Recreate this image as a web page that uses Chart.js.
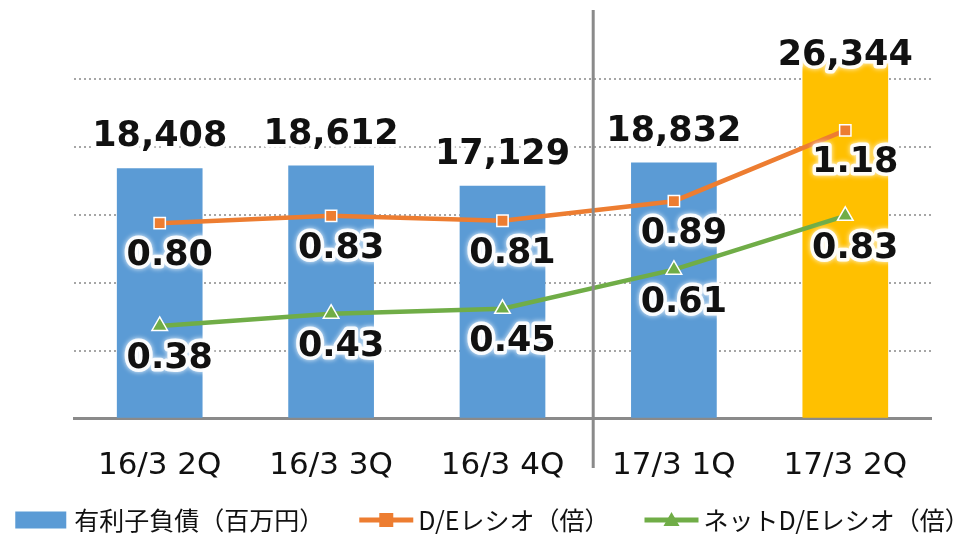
<!DOCTYPE html>
<html>
<head>
<meta charset="utf-8">
<script src="https://cdn.jsdelivr.net/npm/chart.js@4"></script>
<style>
  html, body { margin: 0; padding: 0; background: #fff; }
  #wrap { width: 975px; height: 534px; }
</style>
</head>
<body>
<div id="wrap"><canvas id="debtChart" width="975" height="534"></canvas></div>
<script>
const categories = ['16/3 2Q', '16/3 3Q', '16/3 4Q', '17/3 1Q', '17/3 2Q'];
const debt = [18408, 18612, 17129, 18832, 26344];
const deRatio = [0.80, 0.83, 0.81, 0.89, 1.18];
const netDeRatio = [0.38, 0.43, 0.45, 0.61, 0.83];
const legendLabels = ['有利子負債（百万円）', 'D/Eレシオ（倍）', 'ネットD/Eレシオ（倍）'];

const BLUE = '#5B9BD5';
const YELLOW = '#FFC000';
const ORANGE = '#ED7D31';
const GREEN = '#70AD47';
const LATIN = '"DejaVu Sans", "Noto Sans CJK JP", sans-serif';
const JP = '"Noto Sans CJK JP", sans-serif';

function glowText(ctx, text, x, y) {
  ctx.save();
  ctx.lineJoin = 'round';
  ctx.strokeStyle = 'rgba(255,255,255,0.9)';
  ctx.shadowColor = '#fff';
  ctx.shadowBlur = 5;
  ctx.lineWidth = 7;
  ctx.strokeText(text, x, y);
  ctx.shadowBlur = 0;
  ctx.fillStyle = '#111';
  ctx.fillText(text, x, y);
  ctx.restore();
}

// 値ラベル（白フチ付き）
const valueLabels = {
  id: 'valueLabels',
  afterDatasetsDraw(chart) {
    const ctx = chart.ctx;
    ctx.save();
    ctx.font = 'bold 35px ' + LATIN;
    ctx.textAlign = 'center';
    ctx.textBaseline = 'middle';
    chart.data.datasets.forEach((ds, i) => {
      const meta = chart.getDatasetMeta(i);
      meta.data.forEach((el, j) => {
        const v = ds.data[j];
        if (ds.type === 'bar') {
          const y = Math.max(el.y - 31, chart.chartArea.top + 45);
          glowText(ctx, v.toLocaleString('en-US'), el.x, y);
        } else {
          glowText(ctx, v.toFixed(2), el.x + 10, el.y + 33);
        }
      });
    });
    ctx.restore();
  }
};

// 期の区切り線と凡例
const extras = {
  id: 'extras',
  afterDraw(chart) {
    const ctx = chart.ctx;
    const x = chart.scales.x;
    const sepX = (x.getPixelForValue(2) + x.getPixelForValue(3)) / 2 + 5;
    ctx.save();
    ctx.strokeStyle = '#8a8a8a';
    ctx.lineWidth = 3;
    ctx.beginPath();
    ctx.moveTo(sepX, 10);
    ctx.lineTo(sepX, 468);
    ctx.stroke();

    // legend
    ctx.font = '25px ' + JP;
    ctx.textBaseline = 'middle';
    ctx.textAlign = 'left';
    const ly = 520;
    const markW = 54, gapIn = 5, gapOut = 35;
    const widths = legendLabels.map(t => ctx.measureText(t).width);
    let total = 0;
    widths.forEach((w, i) => { total += markW + gapIn + w + (i < widths.length - 1 ? gapOut : 0); });
    let cx = (chart.width - total) / 2 + 5;
    legendLabels.forEach((t, i) => {
      if (i === 0) {
        ctx.fillStyle = BLUE;
        ctx.fillRect(cx, ly - 8.5, 51, 17);
      } else {
        const col = i === 1 ? ORANGE : GREEN;
        ctx.strokeStyle = col;
        ctx.lineWidth = 5;
        ctx.beginPath();
        ctx.moveTo(cx, ly);
        ctx.lineTo(cx + markW, ly);
        ctx.stroke();
        ctx.fillStyle = col;
        const mx = cx + markW / 2;
        if (i === 1) {
          ctx.fillRect(mx - 7, ly - 7, 14, 14);
        } else {
          ctx.beginPath();
          ctx.moveTo(mx, ly - 8);
          ctx.lineTo(mx + 8, ly + 6);
          ctx.lineTo(mx - 8, ly + 6);
          ctx.closePath();
          ctx.fill();
        }
      }
      ctx.fillStyle = '#111';
      ctx.fillText(t, cx + markW + gapIn, ly);
      cx += markW + gapIn + widths[i] + gapOut;
    });
    ctx.restore();
  }
};

const ctxDebt = document.getElementById('debtChart').getContext('2d');
new Chart(ctxDebt, {
  data: {
    labels: categories,
    datasets: [
      {
        type: 'line',
        label: legendLabels[1],
        data: deRatio,
        yAxisID: 'y1',
        borderColor: ORANGE,
        backgroundColor: ORANGE,
        borderWidth: 4.5,
        pointStyle: 'rect',
        pointRadius: 8,
        pointBorderColor: '#fff',
        pointBorderWidth: 1.5,
        order: 1
      },
      {
        type: 'line',
        label: legendLabels[2],
        data: netDeRatio,
        yAxisID: 'y1',
        borderColor: GREEN,
        backgroundColor: GREEN,
        borderWidth: 4.5,
        pointStyle: 'triangle',
        pointRadius: 9,
        pointBorderColor: '#fff',
        pointBorderWidth: 1.5,
        order: 2
      },
      {
        type: 'bar',
        label: legendLabels[0],
        data: debt,
        yAxisID: 'y',
        backgroundColor: categories.map((c, i) => i === categories.length - 1 ? YELLOW : BLUE),
        borderWidth: 0,
        barPercentage: 0.5,
        categoryPercentage: 1,
        order: 3
      }
    ]
  },
  options: {
    responsive: false,
    animation: false,
    layout: { padding: { left: 74, right: 44, top: 9, bottom: 20 } },
    plugins: {
      legend: { display: false },
      tooltip: { enabled: false }
    },
    scales: {
      x: {
        grid: { display: false, drawTicks: false },
        border: { color: '#8a8a8a', width: 3 },
        ticks: { color: '#111', padding: 29, font: { size: 31, family: LATIN } }
      },
      y: {
        min: 0,
        max: 30000,
        ticks: { display: false, stepSize: 5000 },
        border: { display: false, dash: [2, 3] },
        grid: {
          drawTicks: false,
          lineWidth: 2,
          color: (c) => (c.tick && (c.tick.value === 0 || c.tick.value === 30000)) ? 'rgba(0,0,0,0)' : '#a6a6a6'
        }
      },
      y1: {
        display: false,
        min: 0,
        max: 1.67
      }
    }
  },
  plugins: [valueLabels, extras]
});
</script>
</body>
</html>
